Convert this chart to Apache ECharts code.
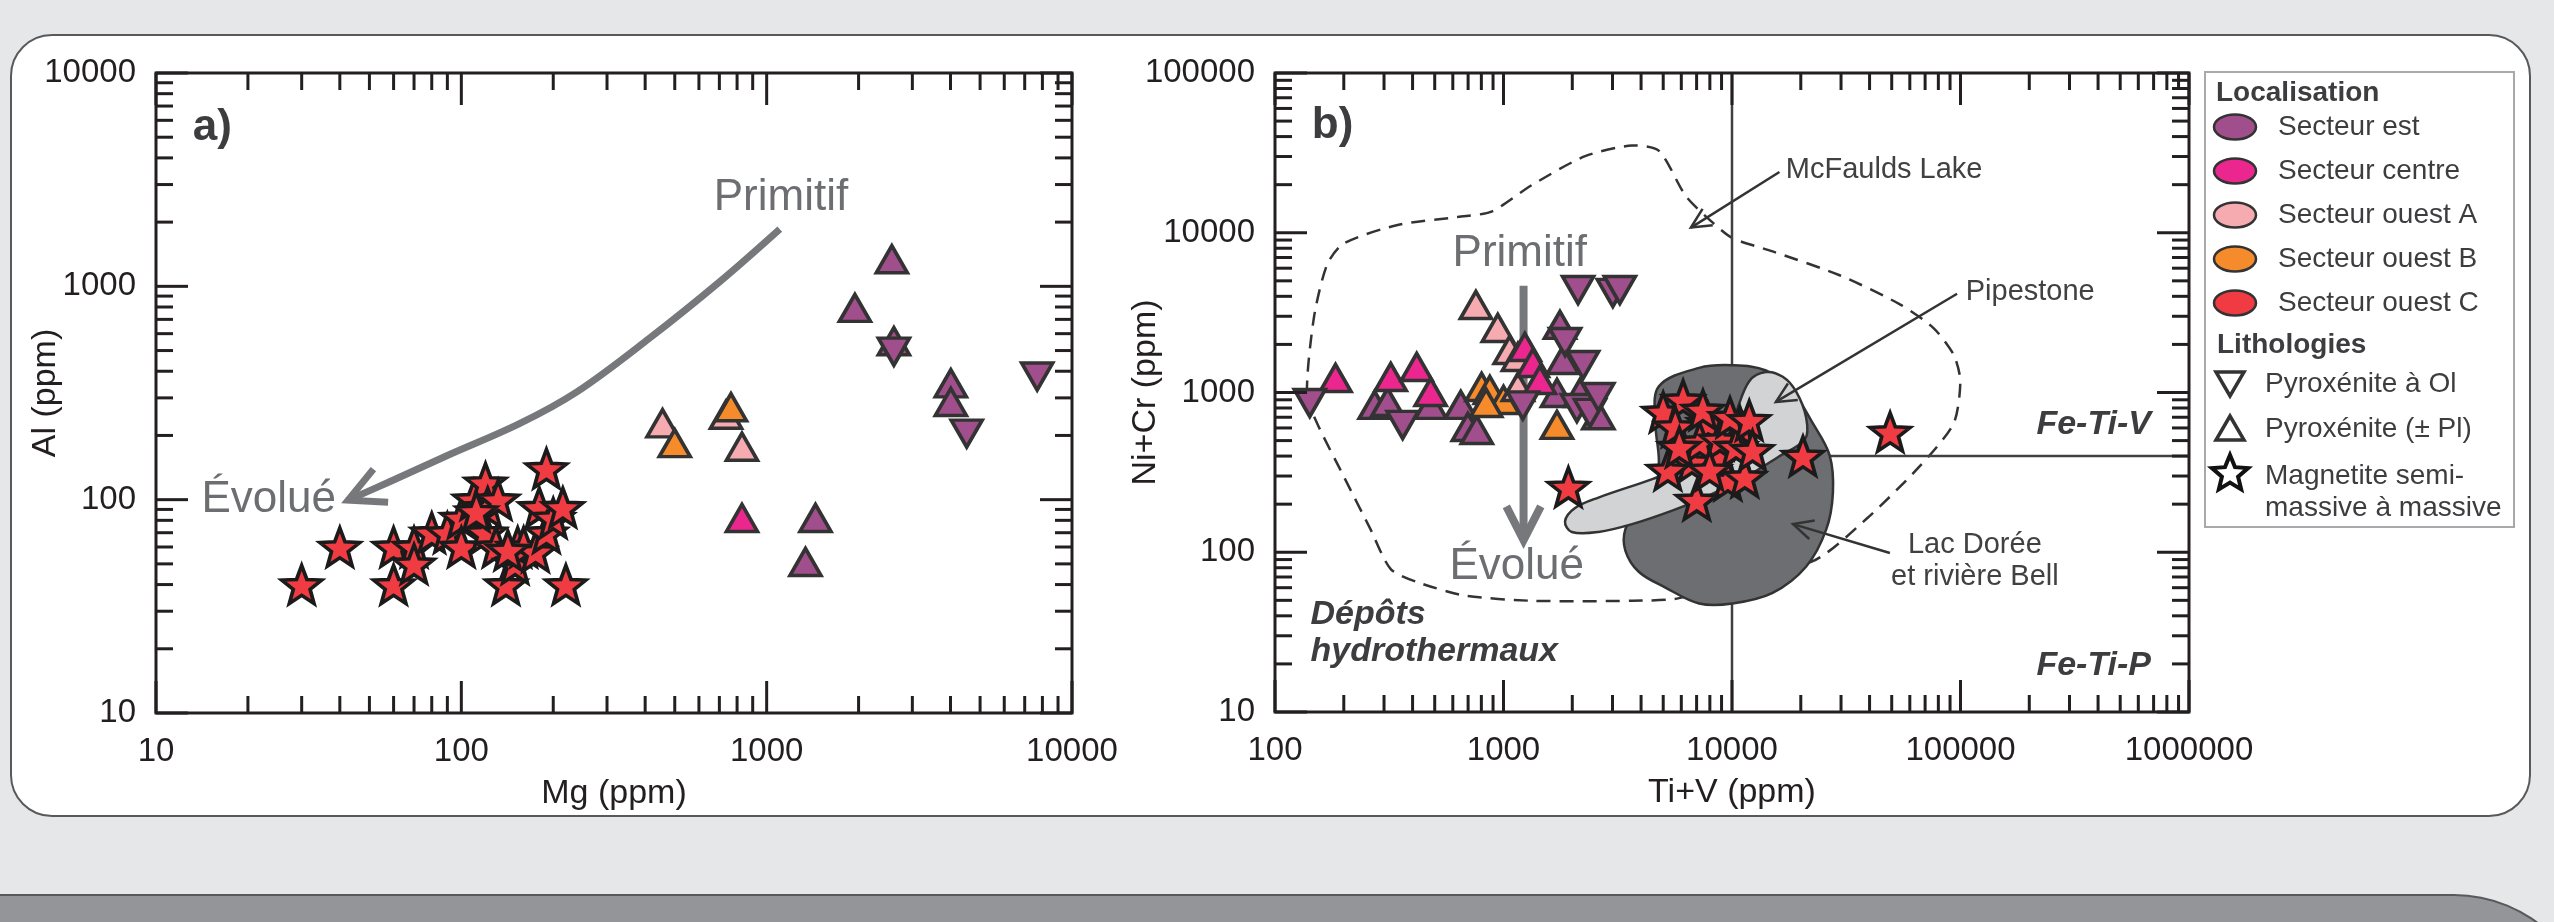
<!DOCTYPE html>
<html>
<head>
<meta charset="utf-8">
<script src="https://cdn.jsdelivr.net/npm/echarts@6.0.0/dist/echarts.min.js"></script>
<style>
html,body{margin:0;padding:0;width:2554px;height:922px;overflow:hidden;background:#e6e7e8;}
#panel{position:absolute;left:10px;top:34px;width:2521px;height:783px;box-sizing:border-box;background:#fff;border:2px solid #58595b;border-radius:42px;}
#band{position:absolute;left:-10px;top:894px;width:2604px;height:200px;box-sizing:border-box;background:#939598;border-top:2px solid #58595b;border-right:2px solid #58595b;border-top-right-radius:140px;}
#chart{position:absolute;left:0;top:0;width:2554px;height:922px;}
</style>
</head>
<body>
<div id="panel"></div><div id="band"></div><div id="chart"></div>
<script>
// ---------------- tick labels ----------------
const aMgTicks   = [10, 100, 1000, 10000];
const aAlTicks   = [10, 100, 1000, 10000];
const bTiVTicks  = [100, 1000, 10000, 100000, 1000000];
const bNiCrTicks = [10, 100, 1000, 10000, 100000];

// ---------------- a) Al vs Mg ----------------
const aEstUpMg    = [2570, 1945, 2610, 4010, 4010, 1445, 1340];
const aEstUpAl    = [1340, 792, 553, 351, 287, 82, 51];
const aEstDownMg  = [2610, 4520, 7690];
const aEstDownAl  = [494, 204, 378];
const aCentreUpMg = [830];
const aCentreUpAl = [82];
const aOuestAUpMg = [456, 736, 830];
const aOuestAUpAl = [228, 250, 177];
const aOuestBUpMg = [500, 764];
const aOuestBUpAl = [184, 271];
const aOuestCMg = [30, 40, 60, 60, 70, 70, 80, 90, 100, 100, 110, 120, 122, 120, 132, 130, 140, 150, 153, 160, 175, 190, 180, 190, 200, 215, 220, 112, 142];
const aOuestCAl = [40, 60, 60, 40, 60, 50, 70, 70, 82, 60, 100, 120, 92, 70, 100, 60, 40, 50, 60, 60, 57, 140, 92, 70, 82, 92, 40, 88, 58];

// ---------------- b) Ni+Cr vs Ti+V ----------------
const bEstUpTiV     = [273, 311, 481, 650, 698, 764, 1766, 1820, 1714, 2160, 2600];
const bEstUpNiCr    = [836, 873, 836, 836, 608, 582, 2650, 1597, 993, 993, 720];
const bEstDownTiV   = [142, 362, 2120, 3010, 3230, 1860, 2230, 1215, 2095, 2390, 2600];
const bEstDownNiCr  = [859, 627, 4385, 4200, 4385, 2070, 1486, 830, 800, 745, 937];
const bCentreUpTiV  = [184, 321, 417, 480, 1240, 1345, 1443];
const bCentreUpNiCr = [1233, 1250, 1445, 1007, 1928, 1530, 1197];
const bOuestAUpTiV  = [757, 944, 1064, 1156, 1156];
const bOuestAUpNiCr = [3530, 2535, 1845, 1667, 1083];
const bOuestBUpTiV  = [802, 871, 1000, 840, 1714];
const bOuestBUpNiCr = [1082, 1037, 898, 860, 627];
const bOuestCTiV  = [5000, 6110, 7870, 10820, 6680, 9040, 5240, 9600, 11380, 7010, 20450, 49200, 1923, 5650, 7220, 8850, 10400, 5880, 7460, 9800, 11900, 12300, 7980];
const bOuestCNiCr = [755, 898, 644, 617, 367, 389, 327, 283, 296, 212, 400, 566, 256, 610, 490, 505, 455, 455, 778, 700, 670, 435, 327];

// ---------------- b) fields ----------------
const mcfTiV  = [138, 148, 169, 200, 344, 631, 885, 1327, 2276, 3652, 4790, 6270, 8210, 10050, 15060, 29580, 54300, 76200, 93300, 99800, 93300, 66500, 38800, 22600, 5860, 3652, 1327, 676, 421, 321, 262, 200, 153];
const mcfNiCr = [973, 2944, 6310, 8570, 11190, 12560, 13560, 19820, 30180, 35180, 32580, 17020, 11610, 9250, 7640, 5420, 3565, 2530, 1725, 1178, 640, 347, 162, 88, 51.6, 49.7, 49.7, 53.6, 64.9, 78.5, 139, 298, 640];
const lacTiV  = [4786, 7180, 10050, 14080, 18450, 22600, 26750, 27650, 25850, 21130, 15060, 10050, 7180, 5115, 3906, 3414, 3414, 3906, 4624, 4786, 4624];
const lacNiCr = [1092, 1426, 1482, 1373, 1011, 640, 404, 237, 139, 81.5, 55.7, 47.8, 47.8, 60.1, 75.5, 102.5, 139, 189, 256, 375, 640];
const pipTiV  = [1859, 2056, 2604, 4478, 7180, 9400, 10400, 11900, 14080, 16680, 19090, 21130, 20860, 15930, 11580, 7730, 5510, 3652, 2604, 1990];
const pipNiCr = [156, 189, 220, 287, 375, 509, 745, 1178, 1343, 1254, 1011, 691, 509, 395, 298, 223, 183, 150, 134, 134];
const vLineTiV = [10000, 10000];
const vLineNiCr = [10, 100000];
const hLineTiV = [10000, 1000000];
const hLineNiCr = [400, 400];

// ---------------- arrows ----------------
const aArrowMg = [1104, 708, 410, 239, 155, 90, 58, 42.6];
const aArrowAl = [1854, 1062, 566, 320, 227, 161, 121, 99.5];
const bArrowTiV = [1224, 1224];
const bArrowNiCr = [4656, 119];
const mcfArrowTiV = [16130, 6610];
const mcfArrowNiCr = [23990, 10770];
const pipArrowTiV = [96600, 15560];
const pipArrowNiCr = [4150, 873];
const lacArrowTiV = [49100, 18500];
const lacArrowNiCr = [98.9, 150];

// ---------------- text annotations ----------------
const aPanelX = [13.2], aPanelY = [5560], aPanelT = ['a)'];
const aTrendX = [1114, 23.4], aTrendY = [2612, 99.5], aTrendT = ['Primitif', 'Évolué'];
const bPanelX = [145], bPanelY = [46500], bPanelT = ['b)'];
const bTrendX = [1178, 1143], bTrendY = [7360, 80.9], bTrendT = ['Primitif', 'Évolué'];
const bFieldX = [17200, 105400], bFieldY = [24700, 4256], bFieldT = ['McFaulds Lake', 'Pipestone'];
const bLacX = [115600], bLacY = [88.2], bLacT = ['Lac Dorée\net rivière Bell'];
const bTypeX = [682000, 682000], bTypeY = [627, 19.4], bTypeT = ['Fe-Ti-V', 'Fe-Ti-P'];
const bHydX = [143], bHydY = [31.3], bHydT = ['Dépôts\nhydrothermaux'];

// ---------------- legend ----------------
const sectorNames  = ['Secteur est', 'Secteur centre', 'Secteur ouest A', 'Secteur ouest B', 'Secteur ouest C'];
const sectorColors = ['#a14f8c', '#ec268f', '#f6abb1', '#f68b2c', '#ef3b41'];
const lithoNames   = ['Pyroxénite à Ol', 'Pyroxénite (± Pl)', 'Magnetite semi-\nmassive à massive'];

// =====================================================================
const FONT = '"Liberation Sans", Arial, sans-serif';
const INK = '#231f20';
const DARK = '#3d3d3f';
const GRAY = '#6d6e71';
const STAR = 'path://M50,0 L62.34,33.01 L97.55,34.55 L69.97,56.49 L79.39,90.45 L50,71 L20.61,90.45 L30.03,56.49 L2.45,34.55 L37.66,33.01 Z';

function zip(xs, ys) { return xs.map((x, i) => [x, ys[i]]); }

function scatter(gi, xs, ys, color, shape, z) {
  const star = shape === 'star';
  return {
    type: 'scatter', xAxisIndex: gi, yAxisIndex: gi, data: zip(xs, ys),
    symbol: star ? STAR : 'triangle', symbolKeepAspect: false,
    symbolRotate: shape === 'down' ? 180 : 0,
    symbolSize: star ? [40, 38] : [31, 27],
    itemStyle: { color: color, opacity: 1, borderColor: star ? '#1b1b1b' : '#333333', borderWidth: 3.6, borderJoin: 'miter', borderMiterLimit: 10 },
    emphasis: { disabled: true }, silent: true, z: z || 5, animation: false
  };
}

function customSeries(gi, anchor, build, z) {
  return {
    type: 'custom', coordinateSystem: 'cartesian2d', xAxisIndex: gi, yAxisIndex: gi,
    data: [anchor], z: z, silent: true, animation: false, clip: false,
    renderItem: function (params, api) { return build(api); }
  };
}

function polygonSeries(gi, xs, ys, style, smooth, z) {
  return customSeries(gi, [xs[0], ys[0]], api => ({
    type: 'polygon',
    shape: { points: xs.map((x, i) => api.coord([x, ys[i]])), smooth: smooth },
    style: style
  }), z);
}

function lineSeries(gi, xs, ys, style, z) {
  return customSeries(gi, [xs[0], ys[0]], api => ({
    type: 'polyline',
    shape: { points: xs.map((x, i) => api.coord([x, ys[i]])) },
    style: Object.assign({ fill: 'none' }, style)
  }), z);
}

function arrowSeries(gi, xs, ys, o, z) {
  return customSeries(gi, [xs[0], ys[0]], api => {
    const pts = xs.map((x, i) => api.coord([x, ys[i]]));
    const tip = pts[pts.length - 1], prev = pts[pts.length - 2];
    const ang = Math.atan2(prev[1] - tip[1], prev[0] - tip[0]);
    const a = o.angle * Math.PI / 180;
    const arm = s => [tip[0] + o.head * Math.cos(ang + s * a), tip[1] + o.head * Math.sin(ang + s * a)];
    const st = { stroke: o.color, lineWidth: o.width, fill: 'none', lineJoin: 'miter', miterLimit: 10 };
    return { type: 'group', children: [
      { type: 'polyline', shape: { points: pts, smooth: o.smooth || 0 }, style: st },
      { type: 'polyline', shape: { points: [arm(1), tip, arm(-1)] }, style: st }
    ] };
  }, z);
}

function textSeries(gi, xs, ys, texts, font, fill, align, lineHeight, z) {
  return customSeries(gi, [xs[0], ys[0]], api => ({
    type: 'group',
    children: xs.map((x, i) => {
      const p = api.coord([x, ys[i]]);
      return { type: 'text', x: p[0], y: p[1], style: {
        text: texts[i], font: font, fill: fill, align: align, verticalAlign: 'middle', lineHeight: lineHeight
      } };
    })
  }), z || 6);
}

function withMinor(major) {
  const out = [];
  major.forEach((m, i) => {
    out.push({ v: m, major: true });
    if (i < major.length - 1) for (let k = 2; k <= 9; k++) out.push({ v: m * k, major: false });
  });
  return out;
}

function tickSeries(gi, xMaj, yMaj) {
  const x0 = xMaj[0], x1 = xMaj[xMaj.length - 1], y0 = yMaj[0], y1 = yMaj[yMaj.length - 1];
  const xt = withMinor(xMaj), yt = withMinor(yMaj);
  const st = { stroke: INK, lineWidth: 3 };
  return customSeries(gi, [x0, y0], api => {
    const ch = [];
    xt.forEach(t => {
      const L = t.major ? 32 : 17;
      const b = api.coord([t.v, y0]), u = api.coord([t.v, y1]);
      ch.push({ type: 'line', shape: { x1: b[0], y1: b[1], x2: b[0], y2: b[1] - L }, style: st });
      ch.push({ type: 'line', shape: { x1: u[0], y1: u[1], x2: u[0], y2: u[1] + L }, style: st });
    });
    yt.forEach(t => {
      const L = t.major ? 32 : 17;
      const l = api.coord([x0, t.v]), r = api.coord([x1, t.v]);
      ch.push({ type: 'line', shape: { x1: l[0], y1: l[1], x2: l[0] + L, y2: l[1] }, style: st });
      ch.push({ type: 'line', shape: { x1: r[0], y1: r[1], x2: r[0] - L, y2: r[1] }, style: st });
    });
    return { type: 'group', children: ch };
  }, 8);
}

function isTick(ticks, v) { return ticks.some(t => Math.abs(t - v) / t < 1e-6); }

function axisCfg(gi, ticks, name, isX, nameGap) {
  return {
    type: 'log', logBase: 10, gridIndex: gi, min: ticks[0], max: ticks[ticks.length - 1],
    position: isX ? 'bottom' : 'left',
    axisLine: { show: false }, axisTick: { show: false }, splitLine: { show: false },
    minorTick: { show: false }, minorSplitLine: { show: false },
    axisLabel: { show: true, fontSize: 33, fontFamily: FONT, color: INK, margin: isX ? 22 : 20,
      showMinLabel: true, showMaxLabel: true,
      formatter: v => isTick(ticks, v) ? String(Math.round(v)) : '' },
    name: name, nameLocation: 'middle', nameGap: nameGap, nameMoveOverlap: false,
    nameTextStyle: { fontSize: 34, fontFamily: FONT, color: INK }
  };
}

const [cEst, cCentre, cOuestA, cOuestB, cOuestC] = sectorColors;

const series = [
  // ---- a) ----
  arrowSeries(0, aArrowMg, aArrowAl, { color: '#77787b', width: 7, head: 40, angle: 27, smooth: 0.35 }, 3),
  textSeries(0, aPanelX, aPanelY, aPanelT, 'bold 44px ' + FONT, DARK, 'left', 44),
  textSeries(0, aTrendX, aTrendY, aTrendT, '44px ' + FONT, GRAY, 'center', 44),
  scatter(0, aOuestAUpMg, aOuestAUpAl, cOuestA, 'up'),
  scatter(0, aOuestBUpMg, aOuestBUpAl, cOuestB, 'up'),
  scatter(0, aCentreUpMg, aCentreUpAl, cCentre, 'up'),
  scatter(0, aEstUpMg, aEstUpAl, cEst, 'up'),
  scatter(0, aEstDownMg, aEstDownAl, cEst, 'down'),
  scatter(0, aOuestCMg, aOuestCAl, cOuestC, 'star'),
  tickSeries(0, aMgTicks, aAlTicks),

  // ---- b) ----
  polygonSeries(1, mcfTiV, mcfNiCr, { fill: 'none', stroke: '#333', lineWidth: 2.5, lineDash: [14, 9] }, 0.25, 2),
  lineSeries(1, vLineTiV, vLineNiCr, { stroke: '#414042', lineWidth: 2.5 }, 2),
  lineSeries(1, hLineTiV, hLineNiCr, { stroke: '#414042', lineWidth: 2.5 }, 2),
  polygonSeries(1, lacTiV, lacNiCr, { fill: '#6d6e71', stroke: '#333', lineWidth: 2.5 }, 0.35, 3),
  polygonSeries(1, pipTiV, pipNiCr, { fill: '#d1d3d4', stroke: '#333', lineWidth: 2.5 }, 0.35, 3),
  arrowSeries(1, bArrowTiV, bArrowNiCr, { color: '#77787b', width: 8, head: 38, angle: 27 }, 3),
  scatter(1, bEstUpTiV, bEstUpNiCr, cEst, 'up'),
  scatter(1, bOuestBUpTiV, bOuestBUpNiCr, cOuestB, 'up'),
  scatter(1, bOuestAUpTiV, bOuestAUpNiCr, cOuestA, 'up'),
  scatter(1, bCentreUpTiV, bCentreUpNiCr, cCentre, 'up'),
  scatter(1, bEstDownTiV, bEstDownNiCr, cEst, 'down'),
  scatter(1, bOuestCTiV, bOuestCNiCr, cOuestC, 'star'),
  arrowSeries(1, mcfArrowTiV, mcfArrowNiCr, { color: '#333', width: 2.5, head: 22, angle: 26 }, 6),
  arrowSeries(1, pipArrowTiV, pipArrowNiCr, { color: '#333', width: 2.5, head: 22, angle: 26 }, 6),
  arrowSeries(1, lacArrowTiV, lacArrowNiCr, { color: '#333', width: 2.5, head: 22, angle: 26 }, 6),
  textSeries(1, bPanelX, bPanelY, bPanelT, 'bold 44px ' + FONT, DARK, 'left', 44),
  textSeries(1, bTrendX, bTrendY, bTrendT, '44px ' + FONT, GRAY, 'center', 44),
  textSeries(1, bFieldX, bFieldY, bFieldT, '29px ' + FONT, '#414042', 'left', 32),
  textSeries(1, bLacX, bLacY, bLacT, '29px ' + FONT, '#414042', 'center', 32),
  textSeries(1, bTypeX, bTypeY, bTypeT, 'italic bold 34px ' + FONT, DARK, 'right', 36),
  textSeries(1, bHydX, bHydY, bHydT, 'italic bold 34px ' + FONT, DARK, 'left', 37),
  tickSeries(1, bTiVTicks, bNiCrTicks)
];

// ---- legend (graphic) ----
function starPoints(cx, cy, R, r) {
  const pts = [];
  for (let k = 0; k < 10; k++) {
    const ang = -Math.PI / 2 + k * Math.PI / 5;
    const rad = k % 2 === 0 ? R : r;
    pts.push([cx + rad * Math.cos(ang), cy + rad * Math.sin(ang)]);
  }
  return pts;
}
const LX = 2205, LY = 72;
const legend = [
  { type: 'rect', shape: { x: LX, y: LY, width: 309, height: 455 }, style: { fill: '#fff', stroke: '#a7a9ac', lineWidth: 2 }, z: 20 },
  { type: 'text', x: LX + 11, y: LY + 21, style: { text: 'Localisation', font: 'bold 28px ' + FONT, fill: DARK, verticalAlign: 'middle' }, z: 21 },
  { type: 'text', x: LX + 12, y: LY + 273, style: { text: 'Lithologies', font: 'bold 28px ' + FONT, fill: DARK, verticalAlign: 'middle' }, z: 21 }
];
sectorNames.forEach((n, i) => {
  const cy = LY + 55 + i * 44;
  legend.push({ type: 'ellipse', shape: { cx: LX + 30, cy: cy, rx: 21, ry: 12.5 }, style: { fill: sectorColors[i], stroke: '#333', lineWidth: 2.5 }, z: 21 });
  legend.push({ type: 'text', x: LX + 73, y: cy, style: { text: n, font: '28px ' + FONT, fill: DARK, verticalAlign: 'middle' }, z: 21 });
});
const lithoY = [LY + 312, LY + 357, LY + 420];
const triSt = { fill: '#fff', stroke: '#333', lineWidth: 3.5, lineJoin: 'miter', miterLimit: 10 };
legend.push({ type: 'polygon', shape: { points: [[LX + 11, LY + 300], [LX + 39, LY + 300], [LX + 25, LY + 324]] }, style: triSt, z: 21 });
legend.push({ type: 'polygon', shape: { points: [[LX + 11, LY + 368], [LX + 39, LY + 368], [LX + 25, LY + 344]] }, style: triSt, z: 21 });
legend.push({ type: 'polygon', shape: { points: starPoints(LX + 25, LY + 402, 19, 8.5) }, style: { fill: '#fff', stroke: '#111', lineWidth: 4, lineJoin: 'miter', miterLimit: 10 }, z: 21 });
lithoNames.forEach((n, i) => {
  legend.push({ type: 'text', x: LX + 60, y: lithoY[i], style: { text: n, font: '28px ' + FONT, fill: DARK, verticalAlign: 'middle', lineHeight: 32 }, z: 21 });
});

const chart = echarts.init(document.getElementById('chart'), null, { renderer: 'canvas' });
chart.setOption({
  animation: false,
  backgroundColor: 'transparent',
  grid: [
    { left: 156, top: 73, width: 916, height: 640, show: true, borderColor: INK, borderWidth: 3, backgroundColor: 'transparent', containLabel: false, outerBoundsMode: 'none' },
    { left: 1275, top: 73, width: 914, height: 639, show: true, borderColor: INK, borderWidth: 3, backgroundColor: 'transparent', containLabel: false, outerBoundsMode: 'none' }
  ],
  xAxis: [
    axisCfg(0, aMgTicks, 'Mg (ppm)', true, 64),
    axisCfg(1, bTiVTicks, 'Ti+V (ppm)', true, 64)
  ],
  yAxis: [
    axisCfg(0, aAlTicks, 'Al (ppm)', false, 93),
    axisCfg(1, bNiCrTicks, 'Ni+Cr (ppm)', false, 112)
  ],
  series: series,
  graphic: legend
});
</script>
</body>
</html>
